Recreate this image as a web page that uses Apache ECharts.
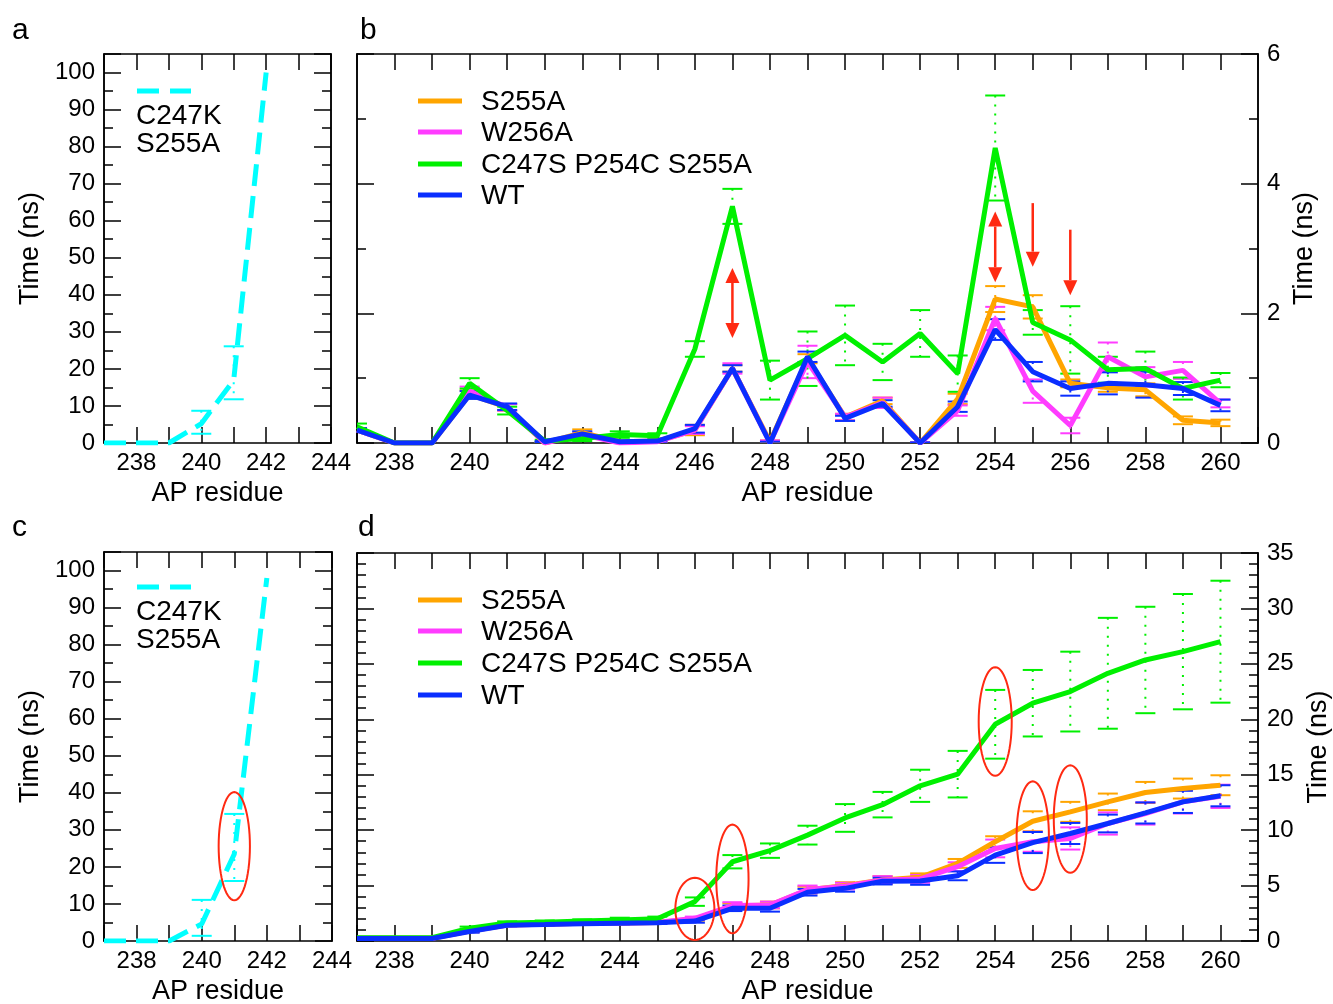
<!DOCTYPE html>
<html>
<head>
<meta charset="utf-8">
<title>AP residue unfolding times</title>
<script src="https://cdn.jsdelivr.net/npm/echarts@6/dist/echarts.min.js"></script>
<style>
    html, body { margin: 0; padding: 0; background: #fff; }
    #chart { width: 1333px; height: 1004px; }
</style>
</head>
<body>
<div id="chart"></div>
<script>
// residues on the x axis
var residues = [237, 238, 239, 240, 241, 242, 243, 244, 245, 246, 247, 248,
    249, 250, 251, 252, 253, 254, 255, 256, 257, 258, 259, 260];
var shortResidues = [237, 238, 239, 240, 241, 242];

// panel a : C247K S255A
var aK247 = [0, 0, 0, 5.2, 17.0, 100];
var aK247Low = [0, 0, 0, 2.5, 11.8, 100];
var aK247High = [0, 0, 0, 8.7, 26.1, 100];

// panel c : C247K S255A (cumulative)
var cK247 = [0, 0, 0, 4.6, 23.5, 98];
var cK247Low = [0, 0, 0, 1.4, 16.2, 98];
var cK247High = [0, 0, 0, 11.1, 34.3, 98];

// panel b : time per residue (ns)
var bS255A = [0.20, 0.00, 0.00, 0.75, 0.55, 0.00, 0.16, 0.02, 0.03, 0.20, 1.15, 0.02,
    1.30, 0.40, 0.65, 0.00, 0.68, 2.22, 2.10, 0.92, 0.85, 0.82, 0.35, 0.31];
var bW256A = [0.20, 0.00, 0.00, 0.80, 0.55, 0.00, 0.13, 0.00, 0.02, 0.20, 1.15, 0.00,
    1.25, 0.40, 0.62, 0.00, 0.50, 1.92, 0.80, 0.27, 1.33, 1.02, 1.12, 0.61];
var bMut3 = [0.25, 0.00, 0.00, 0.92, 0.50, 0.03, 0.07, 0.13, 0.11, 1.45, 3.65, 0.97,
    1.30, 1.66, 1.25, 1.69, 1.07, 4.55, 1.86, 1.59, 1.13, 1.15, 0.84, 0.97];
var bWT = [0.20, 0.00, 0.00, 0.74, 0.56, 0.02, 0.14, 0.02, 0.03, 0.22, 1.15, 0.00,
    1.33, 0.38, 0.61, 0.00, 0.56, 1.75, 1.10, 0.84, 0.92, 0.90, 0.84, 0.58];

// panel b : error half widths
var bS255AErr = [0.03, 0, 0, 0.06, 0.05, 0.01, 0.05, 0.01, 0.02, 0.08, 0.05, 0.02,
    0.07, 0.05, 0.05, 0.01, 0.08, 0.20, 0.18, 0.06, 0.06, 0.10, 0.06, 0.05];
var bW256AErr = [0.03, 0, 0, 0.07, 0.05, 0.01, 0.04, 0.01, 0.01, 0.06, 0.08, 0.04,
    0.25, 0.05, 0.08, 0.01, 0.08, 0.18, 0.18, 0.12, 0.22, 0.15, 0.13, 0.06];
var bMut3Err = [0.05, 0, 0, 0.08, 0.06, 0.02, 0.04, 0.05, 0.04, 0.12, 0.27, 0.30,
    0.42, 0.46, 0.28, 0.36, 0.28, 0.81, 0.19, 0.52, 0.20, 0.26, 0.17, 0.11];
var bWTErr = [0.03, 0, 0, 0.06, 0.05, 0.01, 0.04, 0.01, 0.01, 0.06, 0.05, 0.02,
    0.08, 0.04, 0.05, 0.01, 0.08, 0.16, 0.15, 0.11, 0.17, 0.20, 0.10, 0.09];

// panel d : cumulative time (ns)
var dS255A = [0.25, 0.25, 0.25, 0.90, 1.45, 1.50, 1.60, 1.62, 1.68, 1.98, 3.15, 3.25,
    4.60, 5.00, 5.50, 5.75, 7.00, 8.95, 10.80, 11.65, 12.55, 13.40, 13.75, 14.05];
var dW256A = [0.25, 0.25, 0.25, 0.90, 1.45, 1.52, 1.60, 1.62, 1.68, 2.05, 3.20, 3.25,
    4.65, 4.95, 5.50, 5.60, 6.70, 8.35, 8.95, 9.25, 10.60, 11.50, 12.55, 13.05];
var dMut3 = [0.30, 0.30, 0.30, 1.15, 1.62, 1.70, 1.80, 1.90, 2.00, 3.55, 7.15, 8.15,
    9.55, 11.10, 12.30, 14.00, 15.05, 19.55, 21.45, 22.50, 24.15, 25.35, 26.10, 27.00];
var dWT = [0.22, 0.22, 0.22, 0.85, 1.42, 1.48, 1.55, 1.60, 1.65, 1.80, 2.95, 2.95,
    4.40, 4.75, 5.40, 5.42, 5.88, 7.75, 8.88, 9.70, 10.60, 11.55, 12.55, 13.10];

// panel d : error half widths
var dS255AErr = [0, 0, 0, 0.1, 0.1, 0.1, 0.1, 0.1, 0.1, 0.15, 0.25, 0.3,
    0.3, 0.3, 0.35, 0.35, 0.4, 0.5, 0.9, 0.9, 0.75, 0.95, 0.9, 0.9];
var dW256AErr = [0, 0, 0, 0.1, 0.1, 0.1, 0.1, 0.1, 0.1, 0.15, 0.3, 0.3,
    0.35, 0.3, 0.35, 0.35, 0.4, 0.8, 0.9, 1.0, 1.0, 1.0, 1.05, 1.05];
var dMut3Err = [0, 0, 0, 0.15, 0.15, 0.15, 0.15, 0.2, 0.2, 0.38, 0.6, 0.65,
    0.85, 1.25, 1.15, 1.45, 2.1, 3.1, 3.0, 3.6, 5.0, 4.8, 5.2, 5.5];
var dWTErr = [0, 0, 0, 0.1, 0.1, 0.1, 0.1, 0.1, 0.1, 0.15, 0.25, 0.3,
    0.3, 0.3, 0.3, 0.35, 0.4, 0.7, 0.95, 0.95, 0.8, 0.95, 1.0, 0.95];

// red annotations in panel b (arrows) and panels c, d (rings)
var arrowX = [247, 254, 255, 256];
var arrowFrom = [2.70, 3.57, 3.70, 3.29];
var arrowTo = [1.62, 2.48, 2.72, 2.28];
var arrowBoth = [1, 1, 0, 0];
var ringX = [246, 247, 254, 255, 256];
var ringY = [2.9, 5.6, 19.8, 9.5, 11.0];
var ringHalfW = [0.52, 0.43, 0.44, 0.43, 0.44];
var ringHalfH = [2.8, 4.9, 4.9, 4.9, 4.85];
var cRingX = [241], cRingY = [25.6], cRingHalfW = [0.48], cRingHalfH = [14.6];

var seriesNames = ['S255A', 'W256A', 'C247S P254C S255A', 'WT'];
var FONT = '"Liberation Sans", Arial, sans-serif';
var colS255A = '#ffa500';
var colW256A = '#ff3cff';
var colMut3 = '#00f000';
var colWT = '#0a2eff';
var colK247 = '#00ffff';
var colRed = '#ff2a12';
var seriesColors = [colS255A, colW256A, colMut3, colWT];

// grids: a, b, c, d  (no outer-bounds shrinking, boxes stay where they are)
var grids = [
    {left: 104, top: 54, width: 227, height: 389},
    {left: 357, top: 54, width: 901, height: 389},
    {left: 104, top: 552, width: 228, height: 389},
    {left: 357, top: 553, width: 901, height: 388}
].map(function (g) {
    g.containLabel = false;
    g.outerBoundsMode = 'none';
    return g;
});

var lineBlack = {color: '#000', width: 1.5};

function xAxis(grid, pos, max, labelled) {
    return {
        type: 'value', gridIndex: grid, position: pos, min: 237, max: max, interval: 1,
        axisLine: {show: true, onZero: false, lineStyle: lineBlack},
        axisTick: {show: true, inside: true, length: 16, lineStyle: lineBlack},
        axisLabel: {
            show: labelled, margin: 8, color: '#000', fontSize: 24, fontFamily: FONT,
            formatter: function (v) { return v % 2 === 0 ? String(v) : ''; }
        },
        splitLine: {show: false},
        name: labelled ? 'AP residue' : '', nameLocation: 'middle', nameGap: 37,
        nameTextStyle: {color: '#000', fontSize: 27, fontFamily: FONT}
    };
}

function yAxis(grid, pos, max, step, tickLen, labelled, nameGap) {
    return {
        type: 'value', gridIndex: grid, position: pos, min: 0, max: max, interval: step,
        axisLine: {show: true, onZero: false, lineStyle: lineBlack},
        axisTick: {show: true, inside: true, length: tickLen, lineStyle: lineBlack},
        axisLabel: {
            show: labelled, margin: 9, color: '#000', fontSize: 24, fontFamily: FONT,
            formatter: function (v) {
                return Math.abs(v / step - Math.round(v / step)) < 1e-6 ? String(v) : '';
            }
        },
        splitLine: {show: false},
        name: labelled ? 'Time (ns)' : '', nameLocation: 'middle', nameGap: nameGap || 0,
        nameTextStyle: {color: '#000', fontSize: 27, fontFamily: FONT}
    };
}

// four y axes per grid: labelled major, minor same side, major mirror, minor mirror
function yAxes(grid, side, max, major, minor, nameGap) {
    var other = side === 'left' ? 'right' : 'left';
    return [
        yAxis(grid, side, max, major, 17, true, nameGap),
        yAxis(grid, side, max, minor, 9, false),
        yAxis(grid, other, max, major, 17, false),
        yAxis(grid, other, max, minor, 9, false)
    ];
}

function errorBarRender(color) {
    return function (params, api) {
        var top = api.coord([api.value(0), api.value(2)]);
        var bot = api.coord([api.value(0), api.value(1)]);
        var half = 10;
        var cap = {stroke: color, lineWidth: 2};
        return {
            type: 'group',
            children: [
                {type: 'line', shape: {x1: top[0], y1: top[1], x2: bot[0], y2: bot[1]},
                    style: {stroke: color, lineWidth: 2, lineDash: [2, 7]}},
                {type: 'line', shape: {x1: top[0] - half, y1: top[1], x2: top[0] + half, y2: top[1]}, style: cap},
                {type: 'line', shape: {x1: bot[0] - half, y1: bot[1], x2: bot[0] + half, y2: bot[1]}, style: cap}
            ]
        };
    };
}

function lineSeries(name, xs, ys, color, grid, dash) {
    return {
        name: name, type: 'line', xAxisIndex: grid * 2, yAxisIndex: grid * 4,
        data: xs.map(function (x, i) { return [x, ys[i]]; }),
        showSymbol: false, symbol: 'none', clip: true, z: 3,
        lineStyle: {color: color, width: 5, type: dash || 'solid', cap: 'butt'},
        itemStyle: {color: color}
    };
}

function barSeries(xs, lo, hi, color, grid) {
    var d = [];
    xs.forEach(function (x, i) {
        if (hi[i] > lo[i]) d.push([x, lo[i], hi[i]]);
    });
    return {
        type: 'custom', xAxisIndex: grid * 2, yAxisIndex: grid * 4, data: d, clip: true, z: 2,
        encode: {x: 0, y: [1, 2]}, renderItem: errorBarRender(color)
    };
}

function errSeries(ys, err, color, grid) {
    var lo = ys.map(function (v, i) { return v - err[i]; });
    var hi = ys.map(function (v, i) { return v + err[i]; });
    return barSeries(residues, lo, hi, color, grid);
}

function arrowRender(params, api) {
    var x = api.value(0);
    var a = api.coord([x, api.value(1)]);
    var b = api.coord([x, api.value(2)]);
    var both = api.value(3) === 1;
    var hw = 7, hl = 15;
    var dir = b[1] > a[1] ? 1 : -1;
    var kids = [
        {type: 'line', shape: {x1: a[0], y1: a[1] + (both ? dir * hl : 0), x2: b[0], y2: b[1] - dir * hl},
            style: {stroke: colRed, lineWidth: 2.5}},
        {type: 'polygon', shape: {points: [[b[0], b[1]], [b[0] - hw, b[1] - dir * hl], [b[0] + hw, b[1] - dir * hl]]},
            style: {fill: colRed}}
    ];
    if (both) {
        kids.push({type: 'polygon', shape: {points: [[a[0], a[1]], [a[0] - hw, a[1] + dir * hl], [a[0] + hw, a[1] + dir * hl]]},
            style: {fill: colRed}});
    }
    return {type: 'group', children: kids};
}

function ringRender(params, api) {
    var c = api.coord([api.value(0), api.value(1)]);
    var s = api.size([api.value(2), api.value(3)]);
    var pts = [];
    for (var k = 0; k < 60; k++) {
        var t = k / 60 * Math.PI * 2;
        pts.push([c[0] + s[0] * Math.cos(t), c[1] + s[1] * Math.sin(t)]);
    }
    return {type: 'polygon', shape: {points: pts}, style: {fill: 'none', stroke: colRed, lineWidth: 2}};
}

function zipRows() {
    var cols = Array.prototype.slice.call(arguments);
    return cols[0].map(function (v, i) { return cols.map(function (c) { return c[i]; }); });
}

// legends drawn as plain graphics
function legendBlock(ys) {
    var g = [];
    seriesNames.forEach(function (n, i) {
        g.push({type: 'line', shape: {x1: 418, y1: ys[i], x2: 462, y2: ys[i]},
            style: {stroke: seriesColors[i], lineWidth: 5}});
        g.push({type: 'text', x: 481, y: ys[i] + 1, style: {text: n, fill: '#000', font: '28px ' + FONT, textVerticalAlign: 'middle'}});
    });
    return g;
}

function k247Legend(y) {
    return [
        {type: 'line', shape: {x1: 137, y1: y, x2: 191, y2: y},
            style: {stroke: colK247, lineWidth: 5, lineDash: [22, 11]}},
        {type: 'text', x: 136, y: y + 25, style: {text: 'C247K', fill: '#000', font: '28px ' + FONT, textVerticalAlign: 'middle'}},
        {type: 'text', x: 136, y: y + 53, style: {text: 'S255A', fill: '#000', font: '28px ' + FONT, textVerticalAlign: 'middle'}}
    ];
}

function panelTag(t, x, y) {
    return {type: 'text', x: x, y: y, style: {text: t, fill: '#000', font: '30px ' + FONT, textVerticalAlign: 'middle'}};
}

var series = [];
// panel a
series.push(barSeries(shortResidues, aK247Low, aK247High, colK247, 0));
series.push(lineSeries('C247K S255A', shortResidues, aK247, colK247, 0, [22, 10]));
// panel c
series.push(barSeries(shortResidues, cK247Low, cK247High, colK247, 2));
series.push(lineSeries('C247K S255A', shortResidues, cK247, colK247, 2, [22, 10]));
// panels b and d
[[1, [bS255A, bW256A, bMut3, bWT], [bS255AErr, bW256AErr, bMut3Err, bWTErr]],
    [3, [dS255A, dW256A, dMut3, dWT], [dS255AErr, dW256AErr, dMut3Err, dWTErr]]].forEach(function (p) {
    p[1].forEach(function (ys, i) {
        series.push(errSeries(ys, p[2][i], seriesColors[i], p[0]));
    });
    p[1].forEach(function (ys, i) {
        series.push(lineSeries(seriesNames[i], residues, ys, seriesColors[i], p[0]));
    });
});
// annotations
series.push({type: 'custom', xAxisIndex: 2, yAxisIndex: 4, z: 5, clip: false,
    data: zipRows(arrowX, arrowFrom, arrowTo, arrowBoth), renderItem: arrowRender});
series.push({type: 'custom', xAxisIndex: 6, yAxisIndex: 12, z: 5, clip: false,
    data: zipRows(ringX, ringY, ringHalfW, ringHalfH), renderItem: ringRender});
series.push({type: 'custom', xAxisIndex: 4, yAxisIndex: 8, z: 5, clip: false,
    data: zipRows(cRingX, cRingY, cRingHalfW, cRingHalfH), renderItem: ringRender});

var option = {
    backgroundColor: '#fff',
    animation: false,
    grid: grids,
    xAxis: [
        xAxis(0, 'bottom', 244, true), xAxis(0, 'top', 244, false),
        xAxis(1, 'bottom', 261, true), xAxis(1, 'top', 261, false),
        xAxis(2, 'bottom', 244, true), xAxis(2, 'top', 244, false),
        xAxis(3, 'bottom', 261, true), xAxis(3, 'top', 261, false)
    ],
    yAxis: [].concat(
        yAxes(0, 'left', 105, 10, 5, 60),
        yAxes(1, 'right', 6, 2, 1, 32),
        yAxes(2, 'left', 105, 10, 5, 60),
        yAxes(3, 'right', 35, 5, 1, 46)
    ),
    series: series,
    graphic: [].concat(
        [panelTag('a', 12, 31), panelTag('b', 360, 31), panelTag('c', 12, 528), panelTag('d', 358, 528)],
        k247Legend(91), k247Legend(587),
        legendBlock([101, 132, 164, 195]),
        legendBlock([600, 631, 663, 695])
    )
};

var chart = echarts.init(document.getElementById('chart'), null, {renderer: 'canvas'});
chart.setOption(option);
</script>
</body>
</html>
